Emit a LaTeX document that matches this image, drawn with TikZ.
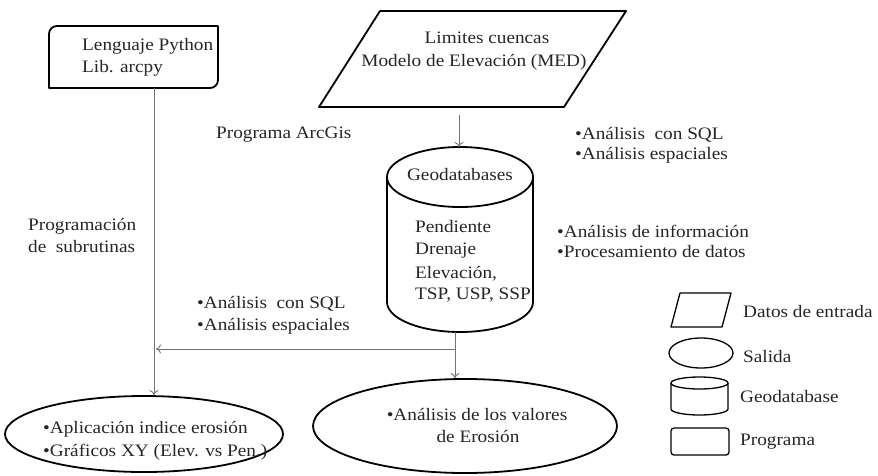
\documentclass[tikz,border=0pt]{standalone}
\usepackage{fontspec}
\setmainfont{Liberation Serif}[FakeStretch=1.1]
\usetikzlibrary{shapes.geometric,arrows.meta}
\begin{document}
\begin{tikzpicture}[x=1pt,y=-1pt,
  shp/.style={draw=black, line width=1.8pt, line join=round},
  lgd/.style={draw=black, line width=1.3pt, line join=round},
  conn/.style={draw=black!55, line width=0.9pt},
  arr/.style={conn, -{To[length=5pt,width=9pt]}},
  txt/.style={font=\fontsize{17.5}{21}\selectfont, text=black!85, inner sep=0pt, anchor=base west},
  ctxt/.style={txt, anchor=base},
  ell/.style={shp, ellipse, inner sep=0pt}]
\useasboundingbox (0,0) rectangle (878,475);

% Python program box
\draw[shp] (49,88) -- (49,34) arc[start angle=180,end angle=270,radius=8] -- (218,26)
  -- (218,80) arc[start angle=0,end angle=90,radius=8] -- cycle;
\node[txt] (py1) at (82,50) {Lenguaje Python};
\node[txt] (py2) at (82,72) {Lib. arcpy};
\coordinate (pyS) at (154,88);

% input parallelogram
\draw[shp] (319,107) -- (380,11) -- (626,11) -- (564,107) -- cycle;
\node[ctxt] (in1) at (487,43) {Limites cuencas};
\node[ctxt] (in2) at (474,66) {Modelo de Elevación (MED)};
\coordinate (inS) at (459,115);

% geodatabase cylinder
\draw[shp] (387,177) -- (387,302) arc[start angle=180,end angle=0,x radius=73,y radius=30] -- (533,177);
\draw[shp] (460,177) ellipse[x radius=73,y radius=30];
\coordinate (cylN) at (459,147);
\coordinate (cylS) at (455,332);
\node[ctxt] (g0) at (460,180) {Geodatabases};
\node[txt] (g1) at (415,232) {Pendiente};
\node[txt] (g2) at (415,254) {Drenaje};
\node[txt] (g3) at (415,278) {Elevación,};
\node[txt] (g4) at (415,299) {TSP, USP, SSP};

% outputs
\node[ell, minimum width=278pt, minimum height=76pt] (out1) at (144,434) {};
\node[txt] (o11) at (43,433) {•Aplicación indice erosión};
\node[txt] (o12) at (43,456) {•Gráficos XY (Elev. vs Pen.)};
\node[ell, minimum width=304pt, minimum height=94pt] (out2) at (465,426) {};
\node[ctxt] (o21) at (477,420) {•Análisis de los valores};
\node[ctxt] (o22) at (478,442) {de Erosión};

% labels
\node[txt] (l1) at (216,138) {Programa ArcGis};
\node[txt] (l2) at (575,139) {•Análisis\ \ con SQL};
\node[txt] (l3) at (575,159) {•Análisis espaciales};
\node[txt] (l4) at (557,237) {•Análisis de información};
\node[txt] (l5) at (557,257) {•Procesamiento de datos};
\node[txt] (l6) at (28,230) {Programación};
\node[txt] (l7) at (28,252) {de\ \ subrutinas};
\node[txt] (l8) at (197,308) {•Análisis\ \ con SQL};
\node[txt] (l9) at (197,330) {•Análisis espaciales};

% connectors
\coordinate (jn) at (455,349);
\coordinate (jw) at (156,349);
\draw[arr] (inS) -- (cylN);
\draw[arr] (cylS) -- (cylS |- out2.north);
\draw[arr] (jn) -- (jw);
\draw[arr] (pyS) -- (pyS |- out1.north);

% legend
\draw[lgd] (671,327) -- (680,293) -- (731,293) -- (722,327) -- cycle;
\node[txt] (k1) at (743,317) {Datos de entrada};
\node[lgd, ellipse, inner sep=0pt, minimum width=64pt, minimum height=30pt] (k2s) at (701,353) {};
\node[txt] (k2) at (743,362) {Salida};
\draw[lgd] (671,383) -- (671,409) arc[start angle=180,end angle=0,x radius=28.5,y radius=6] -- (728,383);
\draw[lgd] (699.5,383) ellipse[x radius=28.5,y radius=6];
\node[txt] (k3) at (740,402) {Geodatabase};
\draw[lgd, rounded corners=3pt] (671,428) rectangle (729,455);
\node[txt] (k4) at (740,445) {Programa};
\end{tikzpicture}
\end{document}
